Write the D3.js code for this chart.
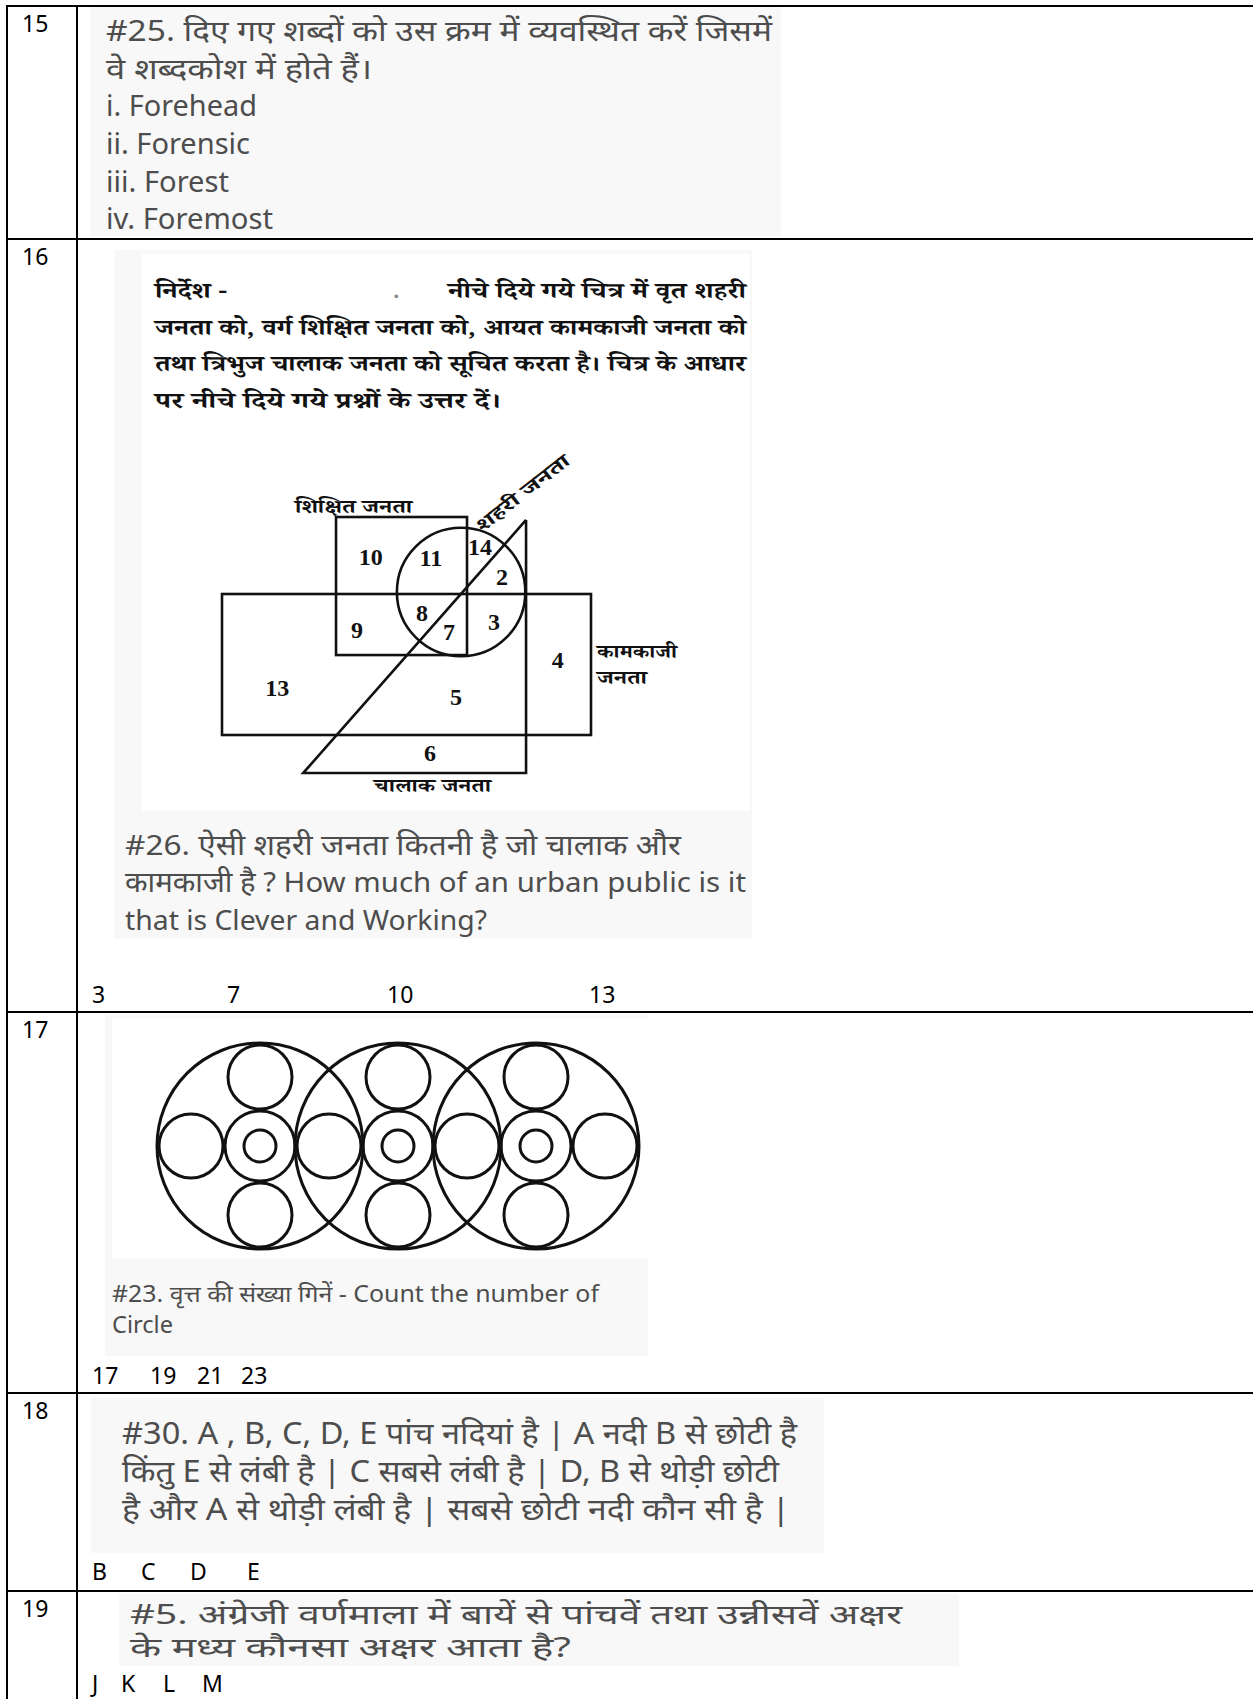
<!DOCTYPE html>
<html>
<head>
<meta charset="utf-8">
<script src="https://cdn.jsdelivr.net/npm/d3@7"></script>
<style>
  body { margin: 0; background: #fff; }
  svg { display: block; }
</style>
</head>
<body>
<div id="sheet"></div>
<script>
// row numbers down the left column
const rowNumbers = ['15', '16', '17', '18', '19'];

// question texts
const q25Lines = [
  '#25. दिए गए शब्दों को उस क्रम में व्यवस्थित करें जिसमें',
  'वे शब्दकोश में होते हैं।',
  'i. Forehead',
  'ii. Forensic',
  'iii. Forest',
  'iv. Foremost'
];
const vennIntroHead = ['निर्देश -', '.', 'नीचे दिये गये चित्र में वृत शहरी'];
const vennIntroLines = [
  'जनता को, वर्ग शिक्षित जनता को, आयत कामकाजी जनता को',
  'तथा त्रिभुज चालाक जनता को सूचित करता है। चित्र के आधार',
  'पर नीचे दिये गये प्रश्नों के उत्तर दें।'
];
const q26Lines = [
  '#26. ऐसी शहरी जनता कितनी है जो चालाक और',
  'कामकाजी है ? How much of an urban public is it',
  'that is Clever and Working?'
];
const q23Lines = ['#23. वृत्त की संख्या गिनें - Count the number of', 'Circle'];
const q30Lines = [
  '#30. A , B, C, D, E पांच नदियां है |  A नदी B से छोटी है',
  'किंतु E से लंबी है | C सबसे लंबी है | D, B से थोड़ी छोटी',
  'है  और A से थोड़ी लंबी है | सबसे छोटी नदी कौन सी है |'
];
const q5Lines = [
  '#5. अंग्रेजी वर्णमाला में बायें से पांचवें तथा उन्नीसवें अक्षर',
  'के  मध्य कौनसा अक्षर आता है?'
];

// answer options
const q26Options = ['3', '7', '10', '13'];
const q23Options = ['17', '19', '21', '23'];
const q30Options = ['B', 'C', 'D', 'E'];
const q5Options = ['J', 'K', 'L', 'M'];

// venn diagram labels
const vennRegions = ['10', '11', '14', '2', '8', '9', '7', '3', '4', '13', '5', '6'];
const vennSets = ['शिक्षित जनता', 'शहरी जनता', 'कामकाजी', 'जनता', 'चालाक जनता'];

// circle puzzle: three wheels, each with 4 outer discs, a ring and a hub
const wheels = [0, 1, 2];
const discDirs = [[0, -1], [-1, 0], [1, 0], [0, 1]];

const W = 1253, H = 1699;
const sansFont = "'Noto Sans', 'Noto Sans Devanagari', sans-serif";
const optFont = "'Noto Sans', 'Open Sans', sans-serif";
const serifFont = "'Noto Serif Devanagari', 'Liberation Serif', serif";

const svg = d3.select('#sheet').append('svg')
  .attr('width', W)
  .attr('height', H);

// gray question boxes
const boxes = [
  [90, 7, 781, 236],
  [114, 250, 752, 939],
  [105, 1015, 648, 1356],
  [91, 1398, 824, 1553],
  [119, 1594, 959, 1666]
];
svg.append('g').selectAll('rect')
  .data(boxes)
  .join('rect')
    .attr('x', d => d[0])
    .attr('y', d => d[1])
    .attr('width', d => d[2] - d[0])
    .attr('height', d => d[3] - d[1])
    .attr('fill', '#f8f8f8');

// white image panels
const panels = [[142, 254, 750, 811], [112, 1019, 648, 1259]];
svg.append('g').selectAll('rect')
  .data(panels)
  .join('rect')
    .attr('x', d => d[0])
    .attr('y', d => d[1])
    .attr('width', d => d[2] - d[0])
    .attr('height', d => d[3] - d[1])
    .attr('fill', '#fff');

// table grid
const rowTops = [6, 239, 1012, 1393, 1591];
const grid = svg.append('g').attr('stroke', '#000').attr('stroke-width', 2);
grid.selectAll('line.h')
  .data(rowTops)
  .join('line')
    .attr('class', 'h')
    .attr('x1', 6).attr('x2', W)
    .attr('y1', d => d).attr('y2', d => d);
grid.selectAll('line.v')
  .data([7, 77])
  .join('line')
    .attr('class', 'v')
    .attr('x1', d => d).attr('x2', d => d)
    .attr('y1', 5).attr('y2', H);

// row numbers
svg.append('g').selectAll('text')
  .data(rowNumbers)
  .join('text')
    .attr('x', 22)
    .attr('y', (d, i) => rowTops[i] + 18)
    .attr('dy', '0.35em')
    .style('font-family', optFont)
    .style('font-size', '23px')
    .style('fill', '#000')
    .text(d => d);

// widths each printed line takes in the page
function textBlock (lines, widths, x, y0, step, size, color) {
  svg.append('g').selectAll('text')
    .data(lines)
    .join('text')
      .attr('x', x)
      .attr('y', (d, i) => y0 + i * step)
      .attr('dy', '0.35em')
      .attr('textLength', (d, i) => widths[i])
      .attr('lengthAdjust', 'spacingAndGlyphs')
      .style('font-family', sansFont)
      .style('font-size', size + 'px')
      .style('fill', color)
      .text(d => d);
}

function optionRow (opts, xs, y) {
  svg.append('g').selectAll('text')
    .data(opts)
    .join('text')
      .attr('x', (d, i) => xs[i])
      .attr('y', y)
      .attr('dy', '0.35em')
      .style('font-family', optFont)
      .style('font-size', '23px')
      .style('fill', '#000')
      .text(d => d);
}

// question 15
textBlock(q25Lines, [666, 266, 151, 144, 123, 167], 106, 31, 37.6, 29, '#4d4d4d');

// question 16: intro paragraph
const intro = svg.append('g')
  .style('font-family', serifFont)
  .style('font-weight', 'bold')
  .style('font-size', '22px')
  .style('fill', '#111');
intro.append('text').attr('x', 155).attr('y', 290).attr('dy', '0.35em')
  .attr('textLength', 72).attr('lengthAdjust', 'spacingAndGlyphs').text(vennIntroHead[0]);
intro.append('text').attr('x', 393).attr('y', 290).attr('dy', '0.35em')
  .style('fill', '#888').text(vennIntroHead[1]);
intro.append('text').attr('x', 448).attr('y', 290).attr('dy', '0.35em')
  .attr('textLength', 298).attr('lengthAdjust', 'spacingAndGlyphs').text(vennIntroHead[2]);
intro.selectAll('text.line')
  .data(vennIntroLines)
  .join('text')
    .attr('class', 'line')
    .attr('x', 155)
    .attr('y', (d, i) => 327 + i * 36.6)
    .attr('dy', '0.35em')
    .attr('textLength', (d, i) => [591, 591, 346][i])
    .attr('lengthAdjust', 'spacingAndGlyphs')
    .text(d => d);

// venn diagram in its own unit space
const vx = d3.scaleLinear().domain([0, 100]).range([222, 591]);
const vy = d3.scaleLinear().domain([0, 100]).range([594, 735]);
const venn = svg.append('g')
  .attr('fill', 'none')
  .attr('stroke', '#111')
  .attr('stroke-width', 2.6);

// square: educated
venn.append('rect')
  .attr('x', vx(30.9)).attr('y', vy(-54.6))
  .attr('width', vx(66.4) - vx(30.9))
  .attr('height', vy(43.3) - vy(-54.6));
// rectangle: working
venn.append('rect')
  .attr('x', vx(0)).attr('y', vy(0))
  .attr('width', vx(100) - vx(0))
  .attr('height', vy(100) - vy(0));
// circle: urban
venn.append('circle')
  .attr('cx', vx(64.8)).attr('cy', vy(-1.4))
  .attr('r', vx(82.2) - vx(64.8));
// triangle: clever
venn.append('path')
  .attr('d', d3.line()([
    [vx(82.4), vy(-52.5)],
    [vx(82.4), vy(127)],
    [vx(22), vy(127)],
    [vx(82.4), vy(-52.5)]
  ]));

const regionPos = [
  [40.3, -26.2], [56.6, -25.5], [69.9, -33.3], [75.9, -12], [54.2, 13.5], [36.6, 25.5],
  [61.5, 26.9], [73.7, 19.9], [91.0, 46.8], [15, 66.7], [63.4, 73], [56.4, 112.8]
];
svg.append('g').selectAll('text')
  .data(vennRegions)
  .join('text')
    .attr('x', (d, i) => vx(regionPos[i][0]))
    .attr('y', (d, i) => vy(regionPos[i][1]))
    .attr('dy', '0.35em')
    .attr('text-anchor', 'middle')
    .style('font-family', "'Liberation Serif', serif")
    .style('font-weight', 'bold')
    .style('font-size', '24px')
    .style('fill', '#111')
    .text(d => d);

// x, y, rotation, printed width
const setLabelPos = [[19.8, -57.4, 0, 117], [70.5, -43.3, -38, 113], [101.6, 45.4, 0, 80], [101.6, 63.8, 0, 50], [41.2, 140.4, 0, 117]];
svg.append('g').selectAll('text')
  .data(vennSets)
  .join('text')
    .attr('transform', (d, i) => `translate(${vx(setLabelPos[i][0])},${vy(setLabelPos[i][1])}) rotate(${setLabelPos[i][2]})`)
    .attr('textLength', (d, i) => setLabelPos[i][3])
    .attr('lengthAdjust', 'spacingAndGlyphs')
    .style('font-family', serifFont)
    .style('font-weight', 'bold')
    .style('font-size', '19px')
    .style('fill', '#111')
    .text(d => d);

textBlock(q26Lines, [556, 621, 362], 125, 845, 37.5, 28, '#4d4d4d');
optionRow(q26Options, [92, 227, 387, 589], 995);

// question 17: circle puzzle
const cx = d3.scaleLinear().domain([0, 2]).range([260, 536]);
const cyMid = 1146;
const wheel = svg.append('g')
  .attr('fill', 'none')
  .attr('stroke', '#111')
  .attr('stroke-width', 3);
wheels.forEach(w => {
  const g = wheel.append('g');
  g.append('circle').attr('cx', cx(w)).attr('cy', cyMid).attr('r', 103);
  // side discs are shared with the neighbouring wheel
  g.selectAll('circle.disc')
    .data(discDirs.filter(d => !(d[0] === 1 && w < wheels.length - 1)))
    .join('circle')
      .attr('class', 'disc')
      .attr('cx', d => cx(w) + d[0] * 69)
      .attr('cy', d => cyMid + d[1] * 69)
      .attr('r', 32);
  g.append('circle').attr('cx', cx(w)).attr('cy', cyMid).attr('r', 35);
  g.append('circle').attr('cx', cx(w)).attr('cy', cyMid).attr('r', 16);
});

textBlock(q23Lines, [487, 61], 112, 1294, 30.5, 23, '#4d4d4d');
optionRow(q23Options, [92, 150, 197, 241], 1376);

// question 18
textBlock(q30Lines, [675, 657, 668], 122, 1433, 38, 30, '#4d4d4d');
optionRow(q30Options, [92, 141, 190, 247], 1572);

// question 19
textBlock(q5Lines, [772, 441], 130, 1615, 33, 27, '#4d4d4d');
optionRow(q5Options, [92, 121, 163, 202], 1684);
</script>
</body>
</html>
